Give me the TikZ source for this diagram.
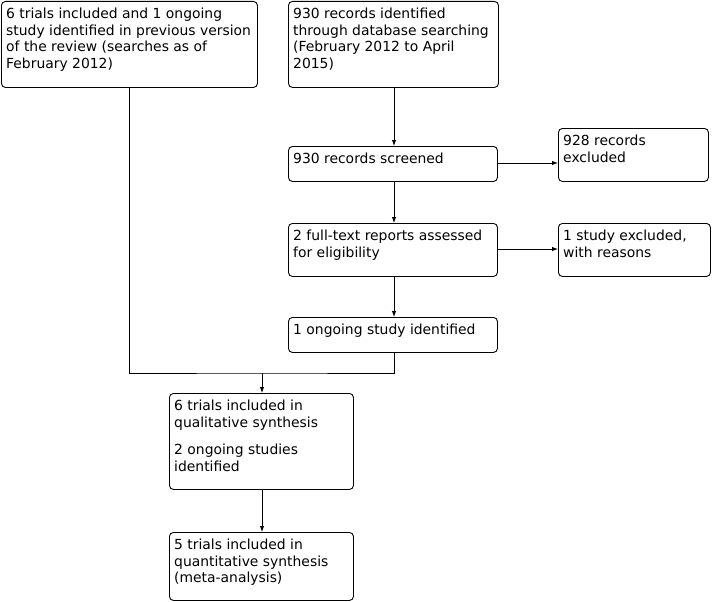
\documentclass[tikz,border=0pt]{standalone}
\usepackage{fontspec}
\setmainfont{DejaVu Sans}
\usetikzlibrary{arrows.meta}
\tikzset{
  x=1pt, y=-1pt,
  box/.style={draw, line width=0.9pt, rounded corners=4pt, inner sep=0pt, anchor=north west},
  txt/.style={anchor=north west, inner sep=0pt, align=left, font=\fontsize{13.9}{16.7}\selectfont},
  conn/.style={line width=0.9pt},
  arr/.style={line width=0.9pt, -{Latex[length=6pt,width=4.5pt]}}
}
\newcommand{\mybox}[6]{%
  \node[box, minimum width=#4-#2, minimum height=#5-#3] (#1) at (#2,#3) {};
  \node[txt] (#1t) at (#2+5,#3+6.6) {#6};
}
\begin{document}
\begin{tikzpicture}
\useasboundingbox (0,0) rectangle (712,602);
\mybox{a}{1}{1}{257}{87}{6 trials included and 1 ongoing\\study identified in previous version\\of the review (searches as of\\February 2012)}
\mybox{b}{288}{1}{498}{87}{930 records identified\\through database searching\\(February 2012 to April\\2015)}
\mybox{c}{288}{146}{497}{181}{930 records screened}
\mybox{d}{558}{128}{708}{181}{928 records\\excluded}
\mybox{e}{288}{223}{497}{276}{2 full-text reports assessed\\for eligibility}
\mybox{f}{558}{223}{710}{276}{1 study excluded,\\with reasons}
\mybox{g}{288}{317}{497}{352}{1 ongoing study identified}
\mybox{h}{169}{393}{353}{489}{6 trials included in\\qualitative synthesis\\[10.6pt]2 ongoing studies\\identified}
\mybox{i}{169}{532}{353}{600}{5 trials included in\\quantitative synthesis\\(meta-analysis)}
\coordinate (j) at (262,373);
\draw[arr] (b.south -| 394,0) -- (c.north -| 394,0);
\draw[arr] (c.south -| 394,0) -- (e.north -| 394,0);
\draw[arr] (e.south -| 394,0) -- (g.north -| 394,0);
\draw[arr] (c.east |- 0,163) -- (d.west |- 0,163);
\draw[arr] (e.east |- 0,249) -- (f.west |- 0,249);
\draw[conn] (a.south -| 129,0) |- (j) -| (g.south -| 394,0);
\draw[arr] (j) -- (h.north -| j);
\draw[arr] (h.south -| 262,0) -- (i.north -| 262,0);
\end{tikzpicture}
\end{document}
